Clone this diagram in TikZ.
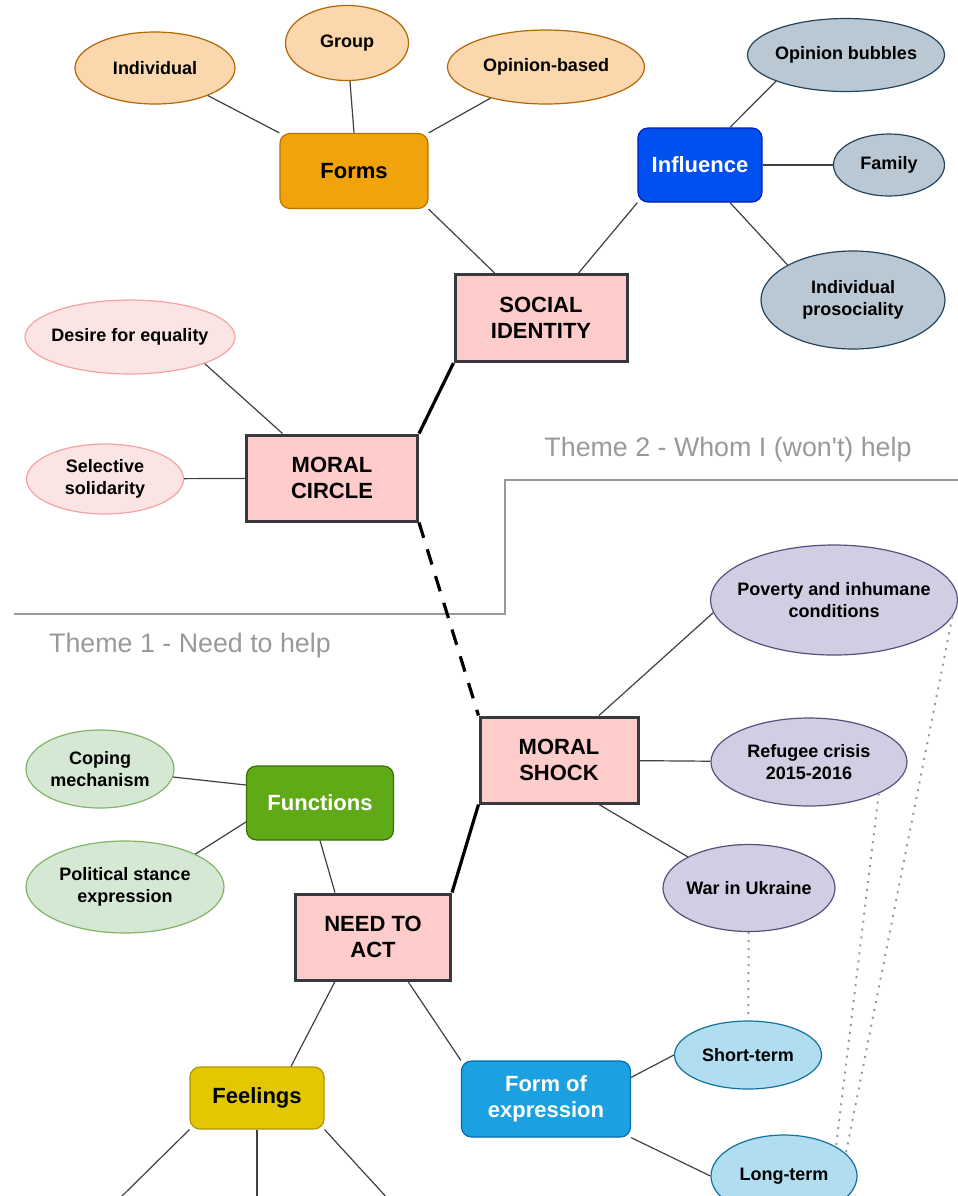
\documentclass[tikz,border=0pt]{standalone}
\usepackage{fontspec}
\setmainfont{Liberation Sans}
\usepackage{tikz}
\usetikzlibrary{positioning,shapes.geometric}
\definecolor{corefill}{HTML}{FFCCCC}
\definecolor{coreline}{HTML}{36393D}
\definecolor{ofill}{HTML}{FAD7AC}
\definecolor{oline}{HTML}{B46504}
\definecolor{formsfill}{HTML}{F0A30A}
\definecolor{formsline}{HTML}{BD7000}
\definecolor{gfill}{HTML}{BAC8D3}
\definecolor{gline}{HTML}{23445D}
\definecolor{inflfill}{HTML}{0050EF}
\definecolor{inflline}{HTML}{001DBC}
\definecolor{pfill}{HTML}{FBE4E4}
\definecolor{pline}{HTML}{F4A3A0}
\definecolor{vfill}{HTML}{D0CEE2}
\definecolor{vline}{HTML}{56517E}
\definecolor{grfill}{HTML}{D5E8D4}
\definecolor{grline}{HTML}{82B366}
\definecolor{funfill}{HTML}{60A917}
\definecolor{funline}{HTML}{2D7600}
\definecolor{feelfill}{HTML}{E3C800}
\definecolor{feelline}{HTML}{B09500}
\definecolor{exprfill}{HTML}{1BA1E2}
\definecolor{exprline}{HTML}{006EAF}
\definecolor{lbfill}{HTML}{B1DDF0}
\definecolor{lbline}{HTML}{10739E}
\definecolor{linkgray}{HTML}{404040}
\definecolor{themegray}{HTML}{999999}

\begin{document}
\begin{tikzpicture}[
    x = 0.5pt, y = -0.5pt,
    every node/.style = {align = center, font = \bfseries\fontsize{9}{11}\selectfont},
    wh/.style 2 args = {minimum width = #1*0.5pt, minimum height = #2*0.5pt},
    oval/.style 2 args = {ellipse, fill = #1, draw = #2, line width = 0.6pt,
        inner xsep = -8pt, inner ysep = 0pt},
    topic/.style 2 args = {rectangle, rounded corners = 5pt, fill = #1, draw = #2,
        line width = 0.6pt, font = \bfseries\fontsize{11}{13}\selectfont},
    core/.style = {rectangle, fill = corefill, draw = coreline, line width = 1.5pt,
        font = \bfseries\fontsize{11}{13}\selectfont},
    link/.style = {draw = linkgray, line width = 0.6pt},
    strong/.style = {draw = black, line width = 1.6pt},
    dots/.style = {draw = themegray, line width = 1pt, dash pattern = on 1pt off 3pt},
    theme/.style = {font = \fontsize{13.4}{16}\selectfont, text = themegray}
    ]
    \useasboundingbox (0,0) rectangle (958,1196);

    \node[core, wh = {172}{87}] (social) at (541,318) {SOCIAL\\IDENTITY};
    \node[core, wh = {171}{86}] (moralcircle) at (332,478) {MORAL\\CIRCLE};
    \node[core, wh = {158}{86}] (moralshock) at (559,760) {MORAL\\SHOCK};
    \node[core, wh = {155}{86}] (needtoact) at (373,937) {NEED TO\\ACT};

    \node[topic = {formsfill}{formsline}, wh = {148}{75}] (forms) at (354,171) {Forms};
    \node[topic = {inflfill}{inflline}, text = white, wh = {124}{74}] (influence) at (700,165) {Influence};
    \node[topic = {funfill}{funline}, text = white, wh = {147}{74}] (functions) at (320,803) {Functions};
    \node[topic = {feelfill}{feelline}, wh = {134}{62}] (feelings) at (257,1098) {Feelings};
    \node[topic = {exprfill}{exprline}, text = white, wh = {169}{76}] (formexpr) at (546,1099) {Form of\\expression};

    \node[oval = {ofill}{oline}, wh = {160}{72}] (indiv) at (155,68) {Individual};
    \node[oval = {ofill}{oline}, wh = {123}{75}] (group) at (347,43) {Group};
    \node[oval = {ofill}{oline}, wh = {197}{74}] (opbased) at (546,67) {Opinion-based};

    \node[oval = {gfill}{gline}, wh = {197}{73}] (bubbles) at (846,55) {Opinion bubbles};
    \node[oval = {gfill}{gline}, wh = {111}{62}] (family) at (889,165) {Family};
    \node[oval = {gfill}{gline}, wh = {184}{98}] (prosocial) at (853,300) {Individual\\prosociality};

    \node[oval = {pfill}{pline}, wh = {210}{74}] (equality) at (130,337) {Desire for equality};
    \node[oval = {pfill}{pline}, wh = {157}{70}] (selective) at (105,479) {Selective\\solidarity};

    \node[oval = {vfill}{vline}, wh = {247}{110}] (poverty) at (834,600) {Poverty and inhumane\\conditions};
    \node[oval = {vfill}{vline}, wh = {196}{88}] (refugee) at (809,762) {Refugee crisis\\2015-2016};
    \node[oval = {vfill}{vline}, wh = {172}{87}] (war) at (749,888) {War in Ukraine};

    \node[oval = {grfill}{grline}, wh = {148}{78}] (coping) at (100,769) {Coping\\mechanism};
    \node[oval = {grfill}{grline}, wh = {198}{92}] (political) at (125,887) {Political stance\\expression};

    \node[oval = {lbfill}{lbline}, wh = {147}{68}] (shortterm) at (748,1055) {Short-term};
    \node[oval = {lbfill}{lbline}, wh = {146}{82}] (longterm) at (784,1176) {Long-term};

    \node[theme] (theme2) at (728,450) {Theme 2 - Whom I (won\textquotesingle t) help};
    \node[theme] (theme1) at (190,646) {Theme 1 - Need to help};
    \draw[draw = themegray, line width = 1.1pt] (14,614) -- (505,614) -- (505,480) -- (958,480);

    \coordinate (feelA) at (118,1200);
    \coordinate (feelB) at (257,1200);
    \coordinate (feelC) at (389,1200);

    \draw[link] (indiv) -- (forms.north west);
    \draw[link] (group) -- (forms.north);
    \draw[link] (opbased) -- (forms.north east);
    \draw[link] (forms.south east) -- (social);
    \draw[link] (influence.south west) -- (social);
    \draw[link] ([xshift = 15pt]influence.north) -- (bubbles.south west);
    \draw[link] (influence) -- (family);
    \draw[link] ([xshift = 15pt]influence.south) -- (prosocial.north west);
    \draw[strong] (social.south west) -- (moralcircle.north east);
    \draw[link] (equality.south east) -- (moralcircle);
    \draw[link] (selective) -- (moralcircle);
    \draw[strong, dash pattern = on 8pt off 6pt] (moralcircle.south east) -- (moralshock.north west);
    \draw[link] ([xshift = 20pt]moralshock.north) -- (poverty.186);
    \draw[link] (moralshock) -- (refugee);
    \draw[link] ([xshift = 20pt]moralshock.south) -- (war.north west);
    \draw[strong] (moralshock.south west) -- (needtoact.north east);
    \draw[link] (functions.south) -- ([xshift = -19pt]needtoact.north);
    \draw[link] (coping) -- ([yshift = 9pt]functions.west);
    \draw[link] (political.north east) -- ([yshift = -9.5pt]functions.west);
    \draw[link] ([xshift = -19pt]needtoact.south) -- ([xshift = 17pt]feelings.north);
    \draw[link] ([xshift = 17.5pt]needtoact.south) -- (formexpr.north west);
    \draw[link] ([yshift = -8.5pt]formexpr.north east) -- (shortterm.west);
    \draw[link] (formexpr.south east) -- (longterm.west);
    \draw[link] (feelings.south west) -- (feelA);
    \draw[link] (feelings.south) -- (feelB);
    \draw[link] (feelings.south east) -- (feelC);
    \draw[dots] (war) -- (shortterm);
    \draw[dots] (refugee.south east) -- (longterm.north east);
    \draw[dots] (poverty.-8) -- (longterm.20);
\end{tikzpicture}
\end{document}
